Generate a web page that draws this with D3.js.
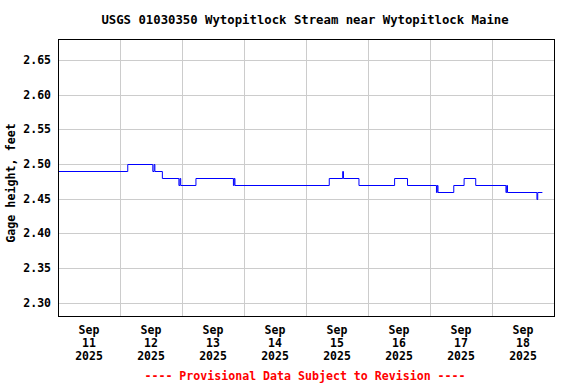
<!DOCTYPE html>
<html>
<head>
<meta charset="utf-8">
<script src="https://cdn.jsdelivr.net/npm/d3@7"></script>
<style>
  body { margin: 0; background: #fff; }
  text { font-family: "DejaVu Sans Mono", monospace; font-weight: bold; }
</style>
</head>
<body>
<div id="chart"></div>
<script>
// gage height steps: hours since Sep 11 00:00, value in feet
var stepHours = [0, 27.0, 36.7, 37.2, 37.5, 40.4, 46.8, 47.2, 47.5, 53.4, 67.9, 68.2, 68.5,
  105.0, 110.2, 110.5, 116.5, 130.3, 135.3, 146.5, 146.8, 147.1, 153.2, 157.2, 161.7,
  173.4, 173.7, 174.0, 185.4, 185.7, 187.5];
var stepValues = [2.49, 2.50, 2.49, 2.50, 2.49, 2.48, 2.47, 2.48, 2.47, 2.48, 2.47, 2.48, 2.47,
  2.48, 2.49, 2.48, 2.47, 2.48, 2.47, 2.46, 2.47, 2.46, 2.47, 2.48, 2.47,
  2.46, 2.47, 2.46, 2.45, 2.46, 2.46];

var yTicks = [2.30, 2.35, 2.40, 2.45, 2.50, 2.55, 2.60, 2.65];
var dayNums = ["11", "12", "13", "14", "15", "16", "17", "18"];
var monthLabel = "Sep";
var yearLabel = "2025";

(function() {
  var width = 576, height = 384;
  var pLeft = 58, pRight = 554, pTop = 39, pBottom = 316;

  var svg = d3.select("#chart").append("svg")
    .attr("width", width)
    .attr("height", height);

  var x = d3.scaleLinear().domain([0, 192]).range([pLeft, pRight]);
  var y = d3.scaleLinear().domain([2.281, 2.680]).range([pBottom, pTop]);

  // grid
  svg.append("g").selectAll("line")
    .data(yTicks)
    .enter().append("line")
    .attr("x1", pLeft).attr("x2", pRight)
    .attr("y1", function(d) { return Math.round(y(d)) + 0.5; })
    .attr("y2", function(d) { return Math.round(y(d)) + 0.5; })
    .style("stroke", "#cccccc");

  svg.append("g").selectAll("line")
    .data(d3.range(1, 8))
    .enter().append("line")
    .attr("x1", function(d) { return Math.round(x(d * 24)) + 0.5; })
    .attr("x2", function(d) { return Math.round(x(d * 24)) + 0.5; })
    .attr("y1", pTop).attr("y2", pBottom)
    .style("stroke", "#cccccc");

  // data line
  var pts = stepHours.map(function(h, i) { return [h, stepValues[i]]; });
  var line = d3.line()
    .x(function(d) { return x(d[0]); })
    .y(function(d) { return Math.round(y(d[1])) + 0.5; })
    .curve(d3.curveStepAfter);

  svg.append("path")
    .attr("d", line(pts))
    .style("fill", "none")
    .style("stroke", "#0000ff")
    .style("stroke-width", 1);

  // frame
  svg.append("rect")
    .attr("x", pLeft + 0.5).attr("y", pTop + 0.5)
    .attr("width", pRight - pLeft).attr("height", pBottom - pTop)
    .style("fill", "none")
    .style("stroke", "#000")
    .style("stroke-width", 1);

  // y tick labels
  svg.append("g").selectAll("text")
    .data(yTicks)
    .enter().append("text")
    .attr("x", 51)
    .attr("y", function(d) { return y(d) + 4; })
    .attr("text-anchor", "end")
    .style("font-size", "11.5px")
    .text(function(d) { return d.toFixed(2); });

  // x tick labels
  var xl = svg.append("g").selectAll("text")
    .data(dayNums)
    .enter().append("text")
    .attr("text-anchor", "middle")
    .style("font-size", "11.5px");
  xl.append("tspan")
    .attr("x", function(d, i) { return x(i * 24 + 12); })
    .attr("y", 334)
    .text(monthLabel);
  xl.append("tspan")
    .attr("x", function(d, i) { return x(i * 24 + 12); })
    .attr("y", 347)
    .text(function(d) { return d; });
  xl.append("tspan")
    .attr("x", function(d, i) { return x(i * 24 + 12); })
    .attr("y", 360)
    .text(yearLabel);

  // title
  svg.append("text")
    .attr("x", 305).attr("y", 24)
    .attr("text-anchor", "middle")
    .style("font-size", "12.3px")
    .text("USGS 01030350 Wytopitlock Stream near Wytopitlock Maine");

  // y axis label
  svg.append("text")
    .attr("transform", "translate(15,183) rotate(-90)")
    .attr("text-anchor", "middle")
    .style("font-size", "11.7px")
    .text("Gage height, feet");

  // footer
  svg.append("text")
    .attr("x", 305).attr("y", 380)
    .attr("text-anchor", "middle")
    .style("font-size", "11.6px")
    .style("fill", "#ff0000")
    .text("---- Provisional Data Subject to Revision ----");
})();
</script>
</body>
</html>
